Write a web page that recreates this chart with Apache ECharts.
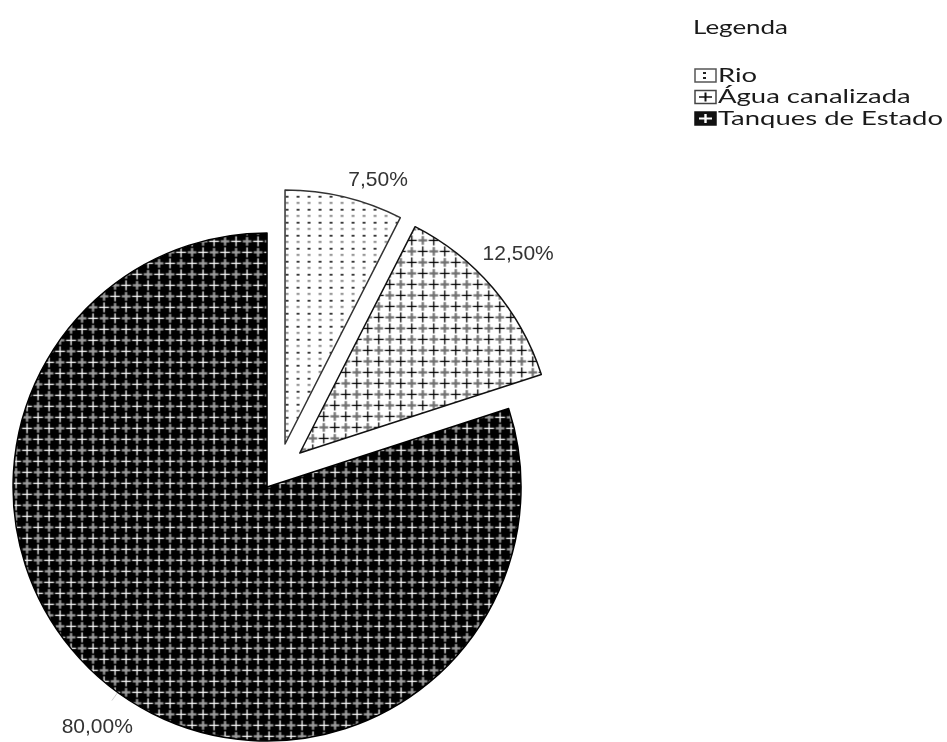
<!DOCTYPE html>
<html>
<head>
<meta charset="utf-8">
<script src="https://cdn.jsdelivr.net/npm/echarts@6/dist/echarts.min.js"></script>
<style>
  html, body { margin: 0; padding: 0; background: #ffffff; }
  #chart { width: 947px; height: 742px; }
</style>
</head>
<body>
<div id="chart"></div>
<script>
// Fontes de abastecimento de água (percentagem de agregados)
const categories = ['Rio', 'Água canalizada', 'Tanques de Estado'];
const shares = [7.5, 12.5, 80.0];
const legendTitle = 'Legenda';

// Distância de destaque de cada fatia (px)
const explode = [28, 28, 19.5];

function formatPct(v) {
  return v.toFixed(2).replace('.', ',') + '%';
}

// ---- texturas das fatias ----
function makeTile(w, h, draw) {
  const c = document.createElement('canvas');
  c.width = w; c.height = h;
  draw(c.getContext('2d'), w, h);
  return c;
}
function plus(g, x, y, arm, lw) {
  g.fillRect(x - arm, y - lw / 2, arm * 2, lw);
  g.fillRect(x - lw / 2, y - arm, lw, arm * 2);
}
function crossTile(bg, sharp, soft) {
  const T = 22, q = T / 4;
  return makeTile(T, T, (g) => {
    g.fillStyle = bg; g.fillRect(0, 0, T, T);
    g.save();
    g.filter = 'blur(0.7px)';
    g.fillStyle = soft;
    plus(g, 3 * q, q, 4.3, 2.2);
    plus(g, q, 3 * q, 4.3, 2.2);
    g.restore();
    g.fillStyle = sharp;
    plus(g, q, q, 5, 1.3);
    plus(g, 3 * q, 3 * q, 5, 1.3);
  });
}
const dotTile = makeTile(11, 13, (g) => {
  g.fillStyle = '#ffffff'; g.fillRect(0, 0, 11, 13);
  g.fillStyle = '#333333'; g.fillRect(4, 2, 3, 1.8);
  g.fillStyle = '#9a9a9a'; g.fillRect(4, 8, 3, 2.2);
});

const fills = [
  { image: dotTile, repeat: 'repeat' },
  { image: crossTile('#ffffff', '#000000', '#707070'), repeat: 'repeat' },
  { image: crossTile('#000000', '#ffffff', '#a0a0a0'), repeat: 'repeat' }
];
const borders = ['#333333', '#111111', '#000000'];

// posição dos rótulos de percentagem
const labelCfg = [
  { length: 17, length2: 0, dist: 0, shift: null },
  { length: 10, length2: 0, dist: 0, shift: { dx: -18, dy: -27 } },
  { length: 10, length2: 0, dist: 5, shift: { dx: 26, dy: 27 } }
];

// Uma série por fatia: todas partilham a mesma geometria,
// só a fatia k fica visível e destacada.
function sliceSeries(k) {
  const cfg = labelCfg[k];
  const s = {
    type: 'pie',
    center: [278.5, 471.2],
    radius: 254,
    startAngle: 90,
    clockwise: true,
    selectedMode: 'multiple',
    selectedOffset: explode[k],
    avoidLabelOverlap: false,
    silent: true,
    animation: false,
    emphasis: { disabled: true },
    label: {
      show: true,
      position: 'outside',
      formatter: (p) => formatPct(p.value),
      fontFamily: 'Liberation Sans, Arial, sans-serif',
      fontSize: 21,
      color: '#333333',
      distanceToLabelLine: cfg.dist
    },
    labelLine: {
      show: k === 2,
      length: cfg.length,
      length2: cfg.length2,
      lineStyle: { color: '#cfcfcf', width: 1 }
    },
    data: categories.map((name, i) => ({
      name: name,
      value: shares[i],
      selected: i === k,
      itemStyle: i === k
        ? { color: fills[k], borderColor: borders[k], borderWidth: 1.5 }
        : { color: 'rgba(0,0,0,0)', borderWidth: 0 },
      label: { show: i === k },
      labelLine: { show: i === k && k === 2 }
    }))
  };
  if (cfg.shift) s.labelLayout = cfg.shift;
  return s;
}

// ---- legenda (texto alargado horizontalmente) ----
const measureCtx = document.createElement('canvas').getContext('2d');
function textWidth(str, font) {
  measureCtx.font = font;
  return measureCtx.measureText(str).width;
}
const legendFont = '19px Lato';
const titleFont = '20px Lato';
const itemScale = 225 / textWidth(categories[2], legendFont);
const titleScale = 95 / textWidth(legendTitle, titleFont);
const rowY = [75.5, 97, 118.5];

function legendIcon(k, y) {
  const w = 21, h = 13, x = 695, top = y - h / 2;
  const els = [];
  if (k === 0) {
    els.push({ type: 'rect', shape: { x: x, y: top, width: w, height: h }, style: { fill: '#ffffff', stroke: '#555555', lineWidth: 1.5 } });
    els.push({ type: 'rect', shape: { x: x + 8, y: top + 3, width: 3, height: 2 }, style: { fill: '#222222' } });
    els.push({ type: 'rect', shape: { x: x + 8, y: top + 8, width: 3, height: 2 }, style: { fill: '#222222' } });
  } else if (k === 1) {
    els.push({ type: 'rect', shape: { x: x, y: top, width: w, height: h }, style: { fill: '#ffffff', stroke: '#444444', lineWidth: 1.5 } });
    els.push({ type: 'rect', shape: { x: x + 4, y: y - 0.75, width: w - 8, height: 1.5 }, style: { fill: '#111111' } });
    els.push({ type: 'rect', shape: { x: x + w / 2 - 1, y: top + 2, width: 2, height: h - 4 }, style: { fill: '#111111' } });
  } else {
    els.push({ type: 'rect', shape: { x: x, y: top, width: w, height: h }, style: { fill: '#111111', stroke: '#111111', lineWidth: 1.5 } });
    els.push({ type: 'rect', shape: { x: x + 4, y: y - 1, width: w - 8, height: 2 }, style: { fill: '#ffffff' } });
    els.push({ type: 'rect', shape: { x: x + w / 2 - 1.2, y: top + 2, width: 2.4, height: h - 4 }, style: { fill: '#ffffff' } });
  }
  return els;
}

const graphics = [{
  type: 'text', x: 693, y: 28, scaleX: titleScale,
  style: { x: 0, y: 0, text: legendTitle, font: titleFont, fill: '#1a1a1a', textAlign: 'left', textVerticalAlign: 'middle' }
}];
categories.forEach((name, k) => {
  legendIcon(k, rowY[k]).forEach((e) => graphics.push(e));
  graphics.push({
    type: 'text', x: 718, y: rowY[k], scaleX: itemScale,
    style: { x: 0, y: 0, text: name, font: legendFont, fill: '#1a1a1a', textAlign: 'left', textVerticalAlign: 'middle' }
  });
});

const chart = echarts.init(document.getElementById('chart'), null, { renderer: 'canvas' });
chart.setOption({
  backgroundColor: '#ffffff',
  animation: false,
  series: [sliceSeries(0), sliceSeries(1), sliceSeries(2)],
  graphic: graphics
});
</script>
</body>
</html>
